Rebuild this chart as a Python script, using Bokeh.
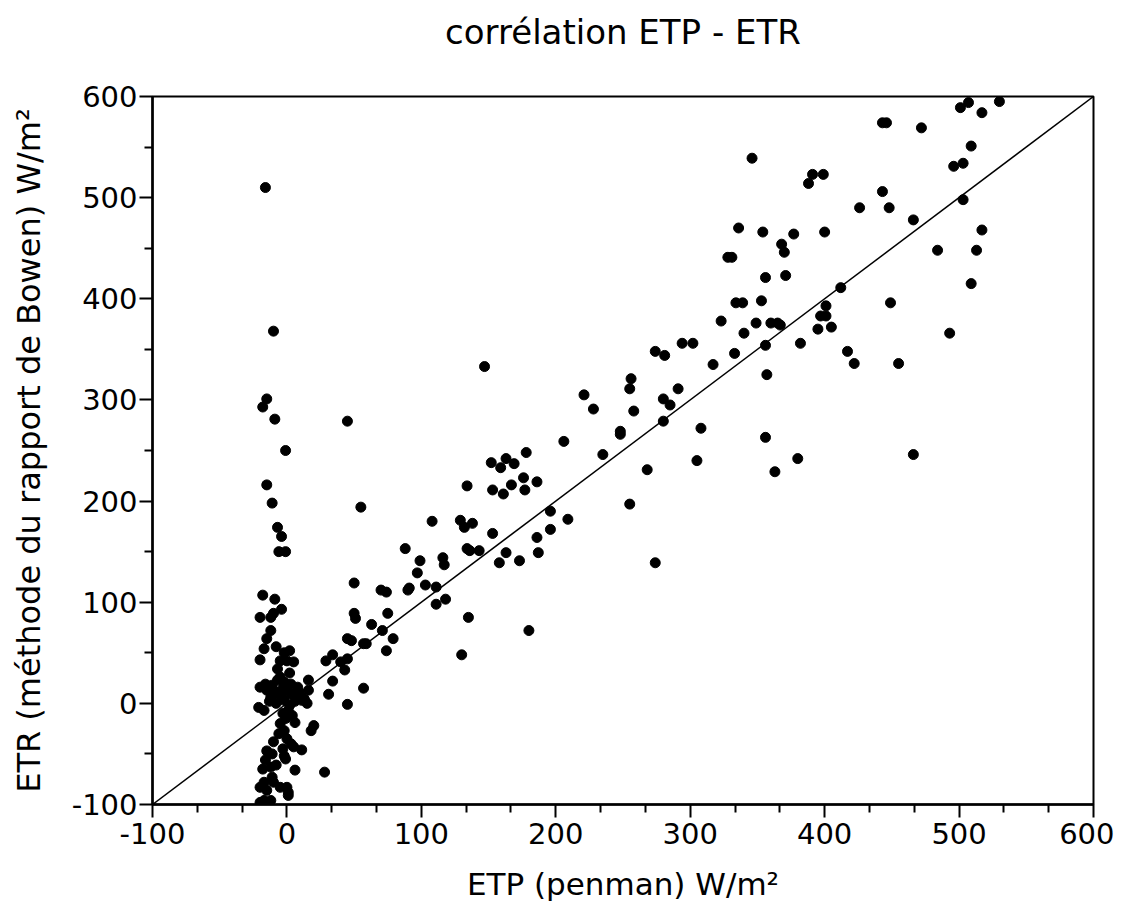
from bokeh.plotting import figure
from bokeh.models import Range1d, FixedTicker, Title
from bokeh.embed import file_html
from bokeh.resources import INLINE

# ETP (penman) W/m2 and ETR (Bowen ratio) W/m2
etp = [501, 507, 530, 517, 443, 446, 472, 346, 509, 496, 503, 391, 399, 388, 443, 426, 448, 503,
       466, 336, 354, 377, 400, 517, 368, 370, 328, 331, 484, 513, 356, 371, 509, 412, 334, 339,
       353, 449, 401, 397, 401, 323, 349, 360, 365, 367, 395, 405, 340, 493, 356, 382, 333, 417,
       422, 455, 357, 356, 380, 363, 466,
       147, 221, 228, 256, 255, 258, 274, 281, 294, 302, 291, 280, 285, 280, 317, 248, 248, 308,
       305, 268, 235, 206, 178, 152, 163, 159, 169, 134, 153, 161, 167, 176, 177, 186, 255, 196,
       209, 196, 186, 187, 163, 158, 173, 153, 129, 132, 138, 134, 136, 143, 274, 135, 180, 130,
       -16, -10, -15, -18, -9, 45, -1, -15, -11, -7, -4, -6, -1, 55, 108, 88, 99, 97, 103, 111,
       116, 117, 111, 118, 50, 50, 51, 63, 71, 75, 70, 74, 90, 91, 79, 74, 45, 48, 57, 59, 34, 29,
       45, 43, 34, 31, 45, 57, 16, 16, 20, 18, 28, 6, 11, 5,
       -18, -9, -4, -10, -12, -20, -12, -15, -8, -17, 2, -2, -20, 5, 0, -5, -7, 2, -5, 40,
       -16, -11, -7, -2, 3, 8, -15, -8, 0, 5, 11, -20, -5, -12,
       -21, -17, -2, 13, 15, 6, -3, 1, -5, -2, -6, -10, -15, -11, -2, -1, -16, -18, -12, -8,
       -11, -10, -17, -20, -15, -5, 0, 1, 1, -17, -12, -20, -10, 3, 9, 11,
       -3, 6, -8, 2, -13, 4, -1, 0, 3, -3]
etr = [589, 594, 595, 584, 574, 574, 569, 539, 551, 531, 534, 523, 523, 514, 506, 490, 490, 498,
       478, 470, 466, 464, 466, 468, 454, 446, 441, 441, 448, 448, 421, 423, 415, 411, 396, 396,
       398, 396, 393, 383, 383, 378, 376, 376, 376, 374, 370, 372, 366, 366, 354, 356, 346, 348,
       336, 336, 325, 263, 242, 229, 246,
       333, 305, 291, 321, 311, 289, 348, 344, 356, 356, 311, 301, 295, 279, 335, 269, 266, 272,
       240, 231, 246, 259, 248, 238, 242, 233, 237, 215, 211, 207, 216, 223, 211, 219, 197, 190,
       182, 172, 164, 149, 149, 139, 141, 168, 181, 174, 178, 153, 151, 151, 139, 85, 72, 48,
       510, 368, 301, 293, 281, 279, 250, 216, 198, 174, 165, 150, 150, 194, 180, 153, 141, 129,
       117, 115, 144, 137, 98, 103, 119, 89, 84, 78, 72, 89, 112, 110, 112, 114, 64, 52, 64, 62,
       59, 59, 48, 42, 44, 33, 22, 9, -1, 15, 23, 13, -22, -27, -68, -66, -46, -43,
       107, 103, 93, 89, 85, 85, 72, 64, 56, 54, 52, 50, 43, 41, 42, 42, 34, 30, 26, 41,
       19, 18, 23, 21, 19, 16, 13, 11, 13, 9, 6, 16, 8, 6,
       -4, -7, 3, 4, 0, -19, -10, -7, -20, -27, -30, -38, -47, -50, -52, -55, -56, -65, -63, -61,
       -73, -78, -78, -83, -86, -83, -83, -88, -91, -96, -96, -98, 13, 9, 11, 3,
       15, 2, 0, -2, 2, -12, -15, -35, -40, -45]

ticks = [-100, 0, 100, 200, 300, 400, 500, 600]
tick_labels = ["-100", "0", "100", "200", "300", "400", "500", "600"]
one_to_one = [-100, 600]
title_text = "corrélation ETP - ETR"

FONT = "DejaVu Sans"

p = figure(width=1114, height=905, output_backend="svg", toolbar_location=None,
           x_range=Range1d(-100, 600), y_range=Range1d(-100, 600),
           min_border_left=152, min_border_right=21, min_border_top=96,
           min_border_bottom=101, title=None)
p.background_fill_color = "white"
p.border_fill_color = "white"
p.grid.visible = False
p.outline_line_color = "black"
p.outline_line_width = 2

# spacer panel (closest to the frame), then the visible title above it
p.add_layout(Title(text=" ", text_font_size="1px", standoff=42), "above")
p.add_layout(Title(text=title_text, text_font=FONT, text_font_size="34px",
                   text_font_style="normal", text_color="black", align="center",
                   standoff=0), "above")

x_minor = [t + k * 100 / 3 for t in ticks[:-1] for k in (1, 2)]
y_minor = [t + 50 for t in ticks[:-1]]
p.xaxis.ticker = FixedTicker(ticks=ticks, minor_ticks=x_minor)
p.yaxis.ticker = FixedTicker(ticks=ticks, minor_ticks=y_minor)
overrides = {t: s for t, s in zip(ticks, tick_labels)}
p.xaxis.major_label_overrides = overrides
p.yaxis.major_label_overrides = overrides

p.xaxis.axis_label = "ETP (penman) W/m²"
p.yaxis.axis_label = "ETR (méthode du rapport de Bowen) W/m²"

for ax in (p.xaxis, p.yaxis):
    ax.axis_line_width = 2.5
    ax.axis_line_color = "black"
    ax.major_tick_line_width = 2
    ax.minor_tick_line_width = 2
    ax.major_tick_line_color = "black"
    ax.minor_tick_line_color = "black"
    ax.major_tick_out = 13
    ax.major_tick_in = 0
    ax.minor_tick_out = 8
    ax.minor_tick_in = 0
    ax.major_label_text_font = FONT
    ax.major_label_text_font_size = "29px"
    ax.major_label_text_color = "black"
    ax.axis_label_text_font = FONT
    ax.axis_label_text_font_style = "normal"
    ax.axis_label_text_color = "black"

p.xaxis.axis_label_text_font_size = "31px"
p.yaxis.axis_label_text_font_size = "32px"
p.xaxis.major_label_standoff = 5
p.yaxis.major_label_standoff = 2
p.xaxis.axis_label_standoff = 19
p.yaxis.axis_label_standoff = 21

p.line(one_to_one, one_to_one, line_color="black", line_width=1.5)
p.scatter(etp, etr, size=10, fill_color="black", line_color="black")

open("out.html", "w").write(file_html(p, INLINE))
